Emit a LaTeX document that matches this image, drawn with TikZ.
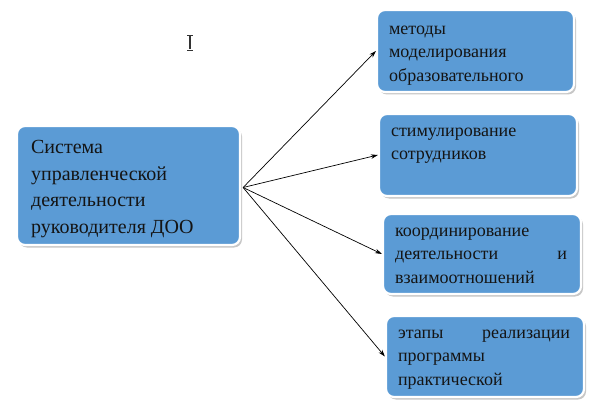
\documentclass[tikz,border=0pt]{standalone}
\usepackage{fontspec}
\setmainfont{Liberation Serif}
\usepackage{xcolor}
\usepackage{tikz}
\usetikzlibrary{arrows.meta, positioning, calc, shadows}
\definecolor{boxblue}{HTML}{5B9BD5}
\definecolor{textdark}{HTML}{141414}

\begin{document}
\begin{tikzpicture}[
  x=1pt, y=1pt,
  box/.style={draw=white, line width=2.2pt, fill=boxblue, rounded corners=8pt,
              inner sep=0pt,
              drop shadow={shadow xshift=2pt, shadow yshift=-2.5pt,
                           fill=gray!55, opacity=0.8}},
  bigtxt/.style={font=\fontsize{20}{26.7}\selectfont, text=textdark,
                 align=left, anchor=north west, inner sep=0pt},
  smalltxt/.style={font=\fontsize{18}{23.3}\selectfont, text=textdark,
                   text width=172pt, align=left, anchor=north west,
                   inner sep=0pt},
  arr/.style={-{Stealth[length=7pt, width=4.5pt]}, line width=0.7pt},
]
\useasboundingbox (0,0) rectangle (595,416);

% ---- Main box ---------------------------------------------------------------
\node[box, minimum width=223pt, minimum height=119pt] (sys) at (128.5,230.5) {};
\node[bigtxt] (systxt) at ([xshift=15pt, yshift=-15pt]sys.north west)
  {Система\\управленческой\\деятельности\\руководителя ДОО};

% ---- Right boxes ------------------------------------------------------------
\node[box, minimum width=197pt, minimum height=82pt] (meth) at (475.5,365) {};
\node[box, minimum width=198pt, minimum height=82pt] (stim) at (478,261) {};
\node[box, minimum width=198pt, minimum height=80pt] (coord) at (482,162) {};
\node[box, minimum width=198pt, minimum height=81pt] (stage) at (485,59.5) {};

\node[smalltxt] (methtxt) at ([xshift=13pt, yshift=-17pt]meth.north west)
  {методы\\моделирования\\образовательного};
\node[smalltxt] (stimtxt) at ([xshift=13pt, yshift=-15pt]stim.north west)
  {стимулирование\\сотрудников};
\node[smalltxt] (coordtxt) at ([xshift=13pt, yshift=-15pt]coord.north west)
  {координирование\\деятельности \hfill и\\взаимоотношений};
\node[smalltxt] (stagetxt) at ([xshift=13pt, yshift=-15pt]stage.north west)
  {этапы \hfill реализации\\программы\\практической};

% ---- Connectors -------------------------------------------------------------
\coordinate (hub) at ([xshift=2pt, yshift=-2pt]sys.east);
\foreach \dst in {meth, stim, coord, stage} {
  \draw[arr] (hub) -- (\dst.west);
}

% ---- Cursor ----------------------------------------------------------------
\draw[line width=1.3pt, black!80] (190,380) -- (190,367);
\draw[line width=0.9pt, black!80] (187,381) -- (193,381);
\draw[line width=0.9pt, black!80] (187,366) -- (193,366);

\end{tikzpicture}
\end{document}
